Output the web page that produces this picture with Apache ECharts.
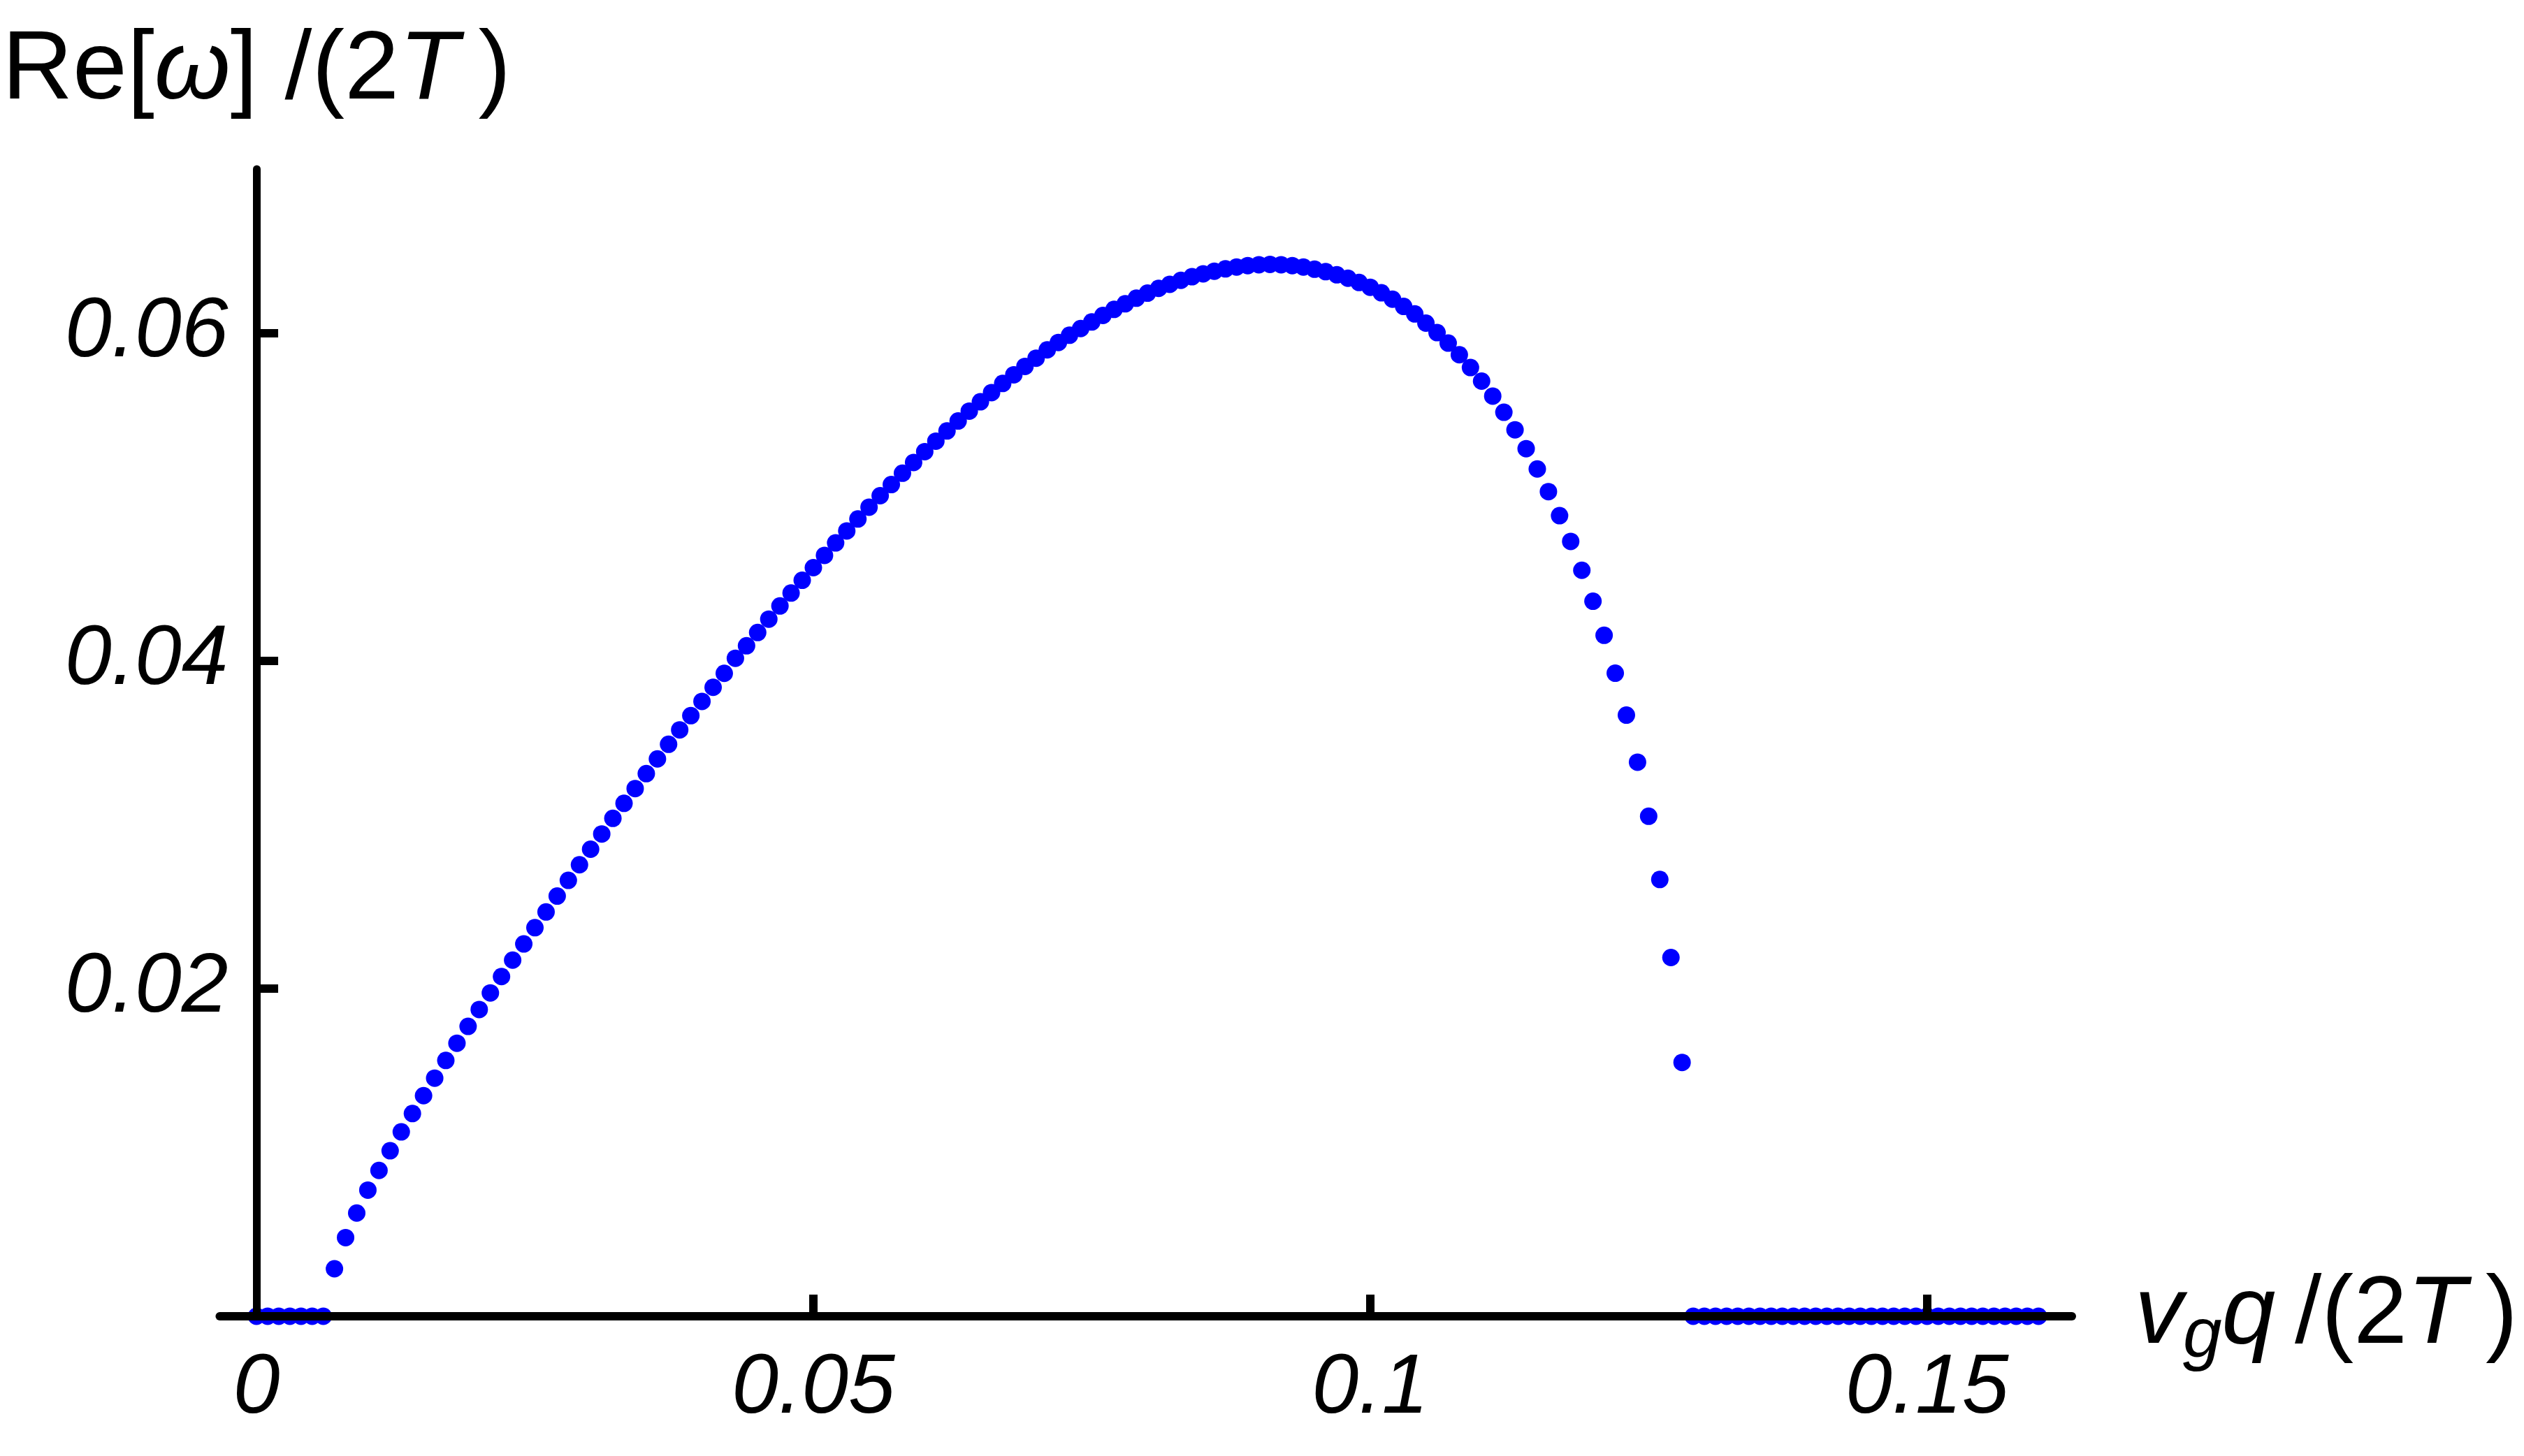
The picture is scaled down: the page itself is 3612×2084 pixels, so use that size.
<!DOCTYPE html>
<html>
<head>
<meta charset="utf-8">
<script src="https://cdn.jsdelivr.net/npm/echarts@6/dist/echarts.min.js"></script>
<style>
html,body{margin:0;padding:0;background:#fff;}
#chart{width:3612px;height:2084px;}
</style>
</head>
<body>
<div id="chart"></div>
<script>
// v_g q /(2T) sample points
const qValues = [
0.000,0.001,0.002,0.003,0.004,0.005,0.006,0.007,0.008,0.009,
0.010,0.011,0.012,0.013,0.014,0.015,0.016,0.017,0.018,0.019,
0.020,0.021,0.022,0.023,0.024,0.025,0.026,0.027,0.028,0.029,
0.030,0.031,0.032,0.033,0.034,0.035,0.036,0.037,0.038,0.039,
0.040,0.041,0.042,0.043,0.044,0.045,0.046,0.047,0.048,0.049,
0.050,0.051,0.052,0.053,0.054,0.055,0.056,0.057,0.058,0.059,
0.060,0.061,0.062,0.063,0.064,0.065,0.066,0.067,0.068,0.069,
0.070,0.071,0.072,0.073,0.074,0.075,0.076,0.077,0.078,0.079,
0.080,0.081,0.082,0.083,0.084,0.085,0.086,0.087,0.088,0.089,
0.090,0.091,0.092,0.093,0.094,0.095,0.096,0.097,0.098,0.099,
0.100,0.101,0.102,0.103,0.104,0.105,0.106,0.107,0.108,0.109,
0.110,0.111,0.112,0.113,0.114,0.115,0.116,0.117,0.118,0.119,
0.120,0.121,0.122,0.123,0.124,0.125,0.126,0.127,0.128,0.129,
0.130,0.131,0.132,0.133,0.134,0.135,0.136,0.137,0.138,0.139,
0.140,0.141,0.142,0.143,0.144,0.145,0.146,0.147,0.148,0.149,
0.150,0.151,0.152,0.153,0.154,0.155,0.156,0.157,0.158,0.159,
0.160
];
// Re[omega] /(2T) values
const reOmega = [
0,0,0,0,0,0,0,0.0029,0.0048,0.0063,
0.0077,0.0089,0.0101,0.01125,0.01237,0.01346,0.01453,0.01561,0.01666,0.01769,
0.01872,0.01973,0.02073,0.02173,0.02272,0.02371,0.02467,0.02564,0.0266,0.02755,
0.0285,0.02943,0.03038,0.0313,0.0322,0.03311,0.03401,0.0349,0.03578,0.03665,
0.03752,0.03838,0.03923,0.04015,0.04091,0.04172,0.04254,0.04334,0.04413,0.04491,
0.04568,0.04643,0.04719,0.04792,0.04865,0.04937,0.05007,0.05075,0.05144,0.0521,
0.05276,0.0534,0.05402,0.05463,0.05523,0.0558,0.05636,0.05692,0.05745,0.05796,
0.05846,0.05897,0.05942,0.05986,0.06027,0.06067,0.06107,0.06144,0.06178,0.06212,
0.06243,0.06272,0.06297,0.06321,0.06343,0.06361,0.06377,0.06391,0.06402,0.06411,
0.06416,0.06418,0.06416,0.06411,0.06402,0.06389,0.06374,0.06355,0.06334,0.06308,
0.06279,0.06245,0.06206,0.06162,0.06116,0.0606,0.06002,0.05938,0.05867,0.05789,
0.05706,0.05615,0.05516,0.05409,0.05294,0.0517,0.05032,0.04885,0.04728,0.04552,
0.04363,0.04155,0.03924,0.03668,0.03381,0.03051,0.02665,0.02189,0.01549,0,
0,0,0,0,0,0,0,0,0,0,
0,0,0,0,0,0,0,0,0,0,
0,0,0,0,0,0,0,0,0,0,
0
];
const xTickValues = [0.05, 0.1, 0.15];
const xLabelValues = [0, 0.05, 0.1, 0.15];
const xLabelTexts = ['0', '0.05', '0.1', '0.15'];
const yTickValues = [0.02, 0.04, 0.06];
const yLabelTexts = ['0.02', '0.04', '0.06'];

const points = qValues.map((q, i) => [q, reOmega[i]]);

const FONT = "'Liberation Sans', Arial, sans-serif";
const chart = echarts.init(document.getElementById('chart'), null, {renderer: 'canvas'});
chart.setOption({
  animation: false,
  backgroundColor: '#ffffff',
  grid: {left: 311, right: 647, top: 242, bottom: 200, containLabel: false},
  xAxis: {
    type: 'value',
    min: -0.0033,
    max: 0.163,
    z: 10,
    splitLine: {show: false},
    axisLine: {show: true, onZero: true, lineStyle: {color: '#000', width: 12}},
    axisTick: {show: true, inside: true, length: 31, customValues: xTickValues, lineStyle: {color: '#000', width: 12}},
    axisLabel: {
      show: true, margin: 45, customValues: xLabelValues,
      formatter: v => { const i = xLabelValues.findIndex(t => Math.abs(t - v) < 1e-9); return i >= 0 ? xLabelTexts[i] : ''; },
      fontFamily: FONT, fontStyle: 'italic', fontSize: 120, color: '#000'
    },
    name: '{i|v}{sub|g}{i|q}{n|\u2009/(2}{i|T}{n|\u2009)}',
    nameLocation: 'end',
    nameGap: 90,
    nameTextStyle: {
      rich: {
        n: {fontFamily: FONT, fontSize: 138, color: '#000', lineHeight: 160},
        i: {fontFamily: FONT, fontSize: 138, fontStyle: 'italic', color: '#000', lineHeight: 160},
        sub: {fontFamily: FONT, fontSize: 100, fontStyle: 'italic', color: '#000', lineHeight: 96, verticalAlign: 'bottom'}
      }
    }
  },
  yAxis: {
    type: 'value',
    min: 0,
    max: 0.07,
    z: 10,
    splitLine: {show: false},
    axisLine: {show: true, onZero: true, lineStyle: {color: '#000', width: 11}},
    axisTick: {show: true, inside: true, length: 31, customValues: yTickValues, lineStyle: {color: '#000', width: 12}},
    axisLabel: {
      show: true, margin: -12, customValues: yTickValues,
      formatter: v => { const i = yTickValues.findIndex(t => Math.abs(t - v) < 1e-9); return i >= 0 ? yLabelTexts[i] : ''; },
      fontFamily: FONT, fontStyle: 'italic', fontSize: 120, color: '#000'
    },
    name: '{n|Re[}{i|ω}{n|] /(2}{i|T}{n|\u2009)}',
    nameLocation: 'end',
    nameGap: 60,
    nameTextStyle: {
      align: 'center',
      rich: {
        n: {fontFamily: FONT, fontSize: 140, color: '#000', lineHeight: 160},
        i: {fontFamily: FONT, fontSize: 140, fontStyle: 'italic', color: '#000', lineHeight: 160}
      }
    }
  },
  series: [{
    type: 'scatter',
    data: points,
    symbol: 'circle',
    symbolSize: 25,
    itemStyle: {color: '#0000ff', opacity: 1},
    z: 2
  }]
});
</script>
</body>
</html>
